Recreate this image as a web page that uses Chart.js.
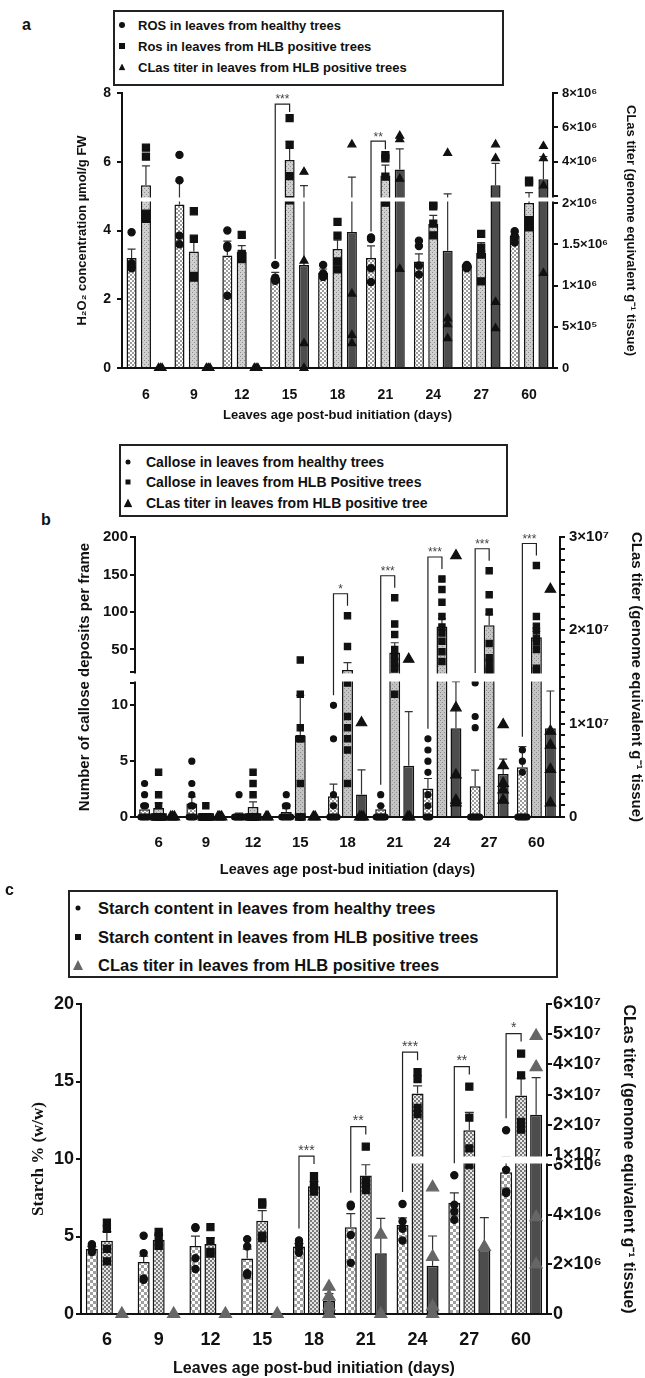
<!DOCTYPE html>
<html>
<head>
<meta charset="utf-8">
<title>ROS, callose and starch in young leaves vs CLas titer</title>
<script src="https://cdn.jsdelivr.net/npm/chart.js@4.4.1/dist/chart.umd.min.js"></script>
<style>
  html, body { margin: 0; padding: 0; background: #fff; }
  body { position: relative; width: 645px; height: 1378px; overflow: hidden;
         font-family: "Liberation Sans", Arial, Helvetica, sans-serif; color: #111; }
  canvas { position: absolute; left: 0; }
  .tag { position: absolute; font-weight: bold; font-size: 16px; line-height: 1; }
  .legend { position: absolute; box-sizing: border-box; border: 2px solid #222; background: #fff;
            z-index: 2; font-weight: bold; }
  .legend .row { position: absolute; white-space: nowrap; line-height: 1; transform: translateY(-50%); }
  .legend .mk { position: absolute; transform: translate(-50%, -50%); background: #111; }
  .legend .circle { border-radius: 50%; }
  .legend .tri { clip-path: polygon(50% 0, 100% 100%, 0 100%); }
</style>
</head>
<body>

<div class="tag" style="left:22px; top:17px;">a</div>
<div class="legend" id="legendA" style="left:113px; top:10px; width:391px; height:76px; font-size:13px;"></div>
<canvas id="chartA" width="645" height="440" style="top:0px;"></canvas>

<div class="tag" style="left:41px; top:512px;">b</div>
<div class="legend" id="legendB" style="left:119px; top:444px; width:389px; height:73px; font-size:14px;"></div>
<canvas id="chartB" width="645" height="450" style="top:440px;"></canvas>

<div class="tag" style="left:5px; top:882px;">c</div>
<div class="legend" id="legendC" style="left:68px; top:890px; width:490px; height:88px; font-size:16.5px;"></div>
<canvas id="chartC" width="645" height="488" style="top:890px;"></canvas>

<script>
// ---- data ----
const days = ['6', '9', '12', '15', '18', '21', '24', '27', '60'];

// (a) H2O2 concentration (µmol/g FW) and CLas titer
const rosHealthy = [3.2, 4.76, 3.27, 2.63, 2.78, 3.2, 3.1, 2.96, 3.85];
const rosHealthySem = [0.26, 0.67, 0.42, 0.15, 0.1, 0.35, 0.22, 0.05, 0.1];
const rosHealthyPts = [[3.95, 3.05, 2.95, 2.9], [6.2, 5.46, 3.85, 3.6], [4.0, 3.56, 3.5, 2.1],
  [3.0, 2.63, 2.58, 2.54], [3.0, 2.75, 2.7, 2.65], [3.8, 3.75, 2.9, 2.5], [3.7, 3.55, 2.98, 2.72],
  [3.0, 2.95, 2.9, 2.95], [3.98, 3.85, 3.8, 3.65]];
const rosHlb = [5.32, 3.39, 3.38, 6.05, 3.46, 5.6, 4.19, 3.35, 4.8];
const rosHlbSem = [0.56, 0.41, 0.18, 0.54, 0.26, 0.3, 0.25, 0.3, 0.3];
const rosHlbPts = [[6.41, 6.15, 4.49, 4.34], [4.56, 3.76, 2.63, 2.68], [3.87, 3.32, 3.22, 3.17],
  [7.27, 6.49, 5.58, 4.88], [4.25, 3.85, 3.1, 2.87], [6.19, 6.1, 5.57, 4.81], [4.75, 4.7, 4.2, 3.86],
  [3.9, 3.5, 3.3, 2.52], [5.4, 5.45, 4.3, 4.09]];
const clasA = [0, 0, 0, 1.25e6, 1.65e6, 3.54e6, 1.42e6, 2.63e6, 2.97e6];
const clasASem = [0, 0, 0, 1.35e6, 1.45e6, 1.2e6, 0.7e6, 1.27e6, 1.33e6];
const clasAPts = [[0, 0, 0], [0, 0, 0], [0, 0, 0], [3.4e6, 1.3e6, 0.3e6, 0], [5.0e6, 0.9e6, 0.4e6, 0.3e6],
  [5.5e6, 5.3e6, 3.0e6, 1.2e6], [4.5e6, 0.6e6, 0.53e6, 0.36e6], [5.0e6, 4.2e6, 0.8e6, 0.48e6],
  [4.9e6, 4.2e6, 2.6e6, 1.15e6]];
const sigA = [3, 5];
const sigAText = ['***', '**'];
const rosTicks = [0, 2, 4, 6, 8];
const clasATicks = [0, 5e5, 1e6, 1.5e6, 2e6, 4e6, 6e6, 8e6];

// (b) callose deposits per frame and CLas titer
const calHealthy = [0.7, 1.2, 0.15, 0.45, 1.85, 0.7, 2.55, 2.75, 4.45];
const calHealthySem = [0.35, 0.6, 0.2, 0.3, 1.1, 0.3, 0.9, 1.45, 1.85];
const calHealthyPts = [[3, 2, 1, 1, 0, 0, 0, 0, 0], [5, 3, 2, 1, 1, 0, 0, 0, 0], [2, 0, 0, 0, 0, 0, 0, 0, 0],
  [2, 1, 1, 0, 0, 0, 0, 0, 0], [10, 7, 2, 1, 0, 0, 0, 0, 0], [2, 1, 0, 0, 0, 0, 0, 0, 0],
  [7, 6, 5, 4, 2, 1, 0, 0, 0], [12, 9, 8, 0, 0, 0, 0, 0, 0], [6, 5, 4, 0, 0, 0, 0, 0, 0]];
const calHlb = [0.8, 0.1, 0.9, 7.3, 22.7, 46, 80.6, 82.5, 66.5];
const calHlbSem = [0.45, 0.1, 0.45, 3.6, 9.8, 13, 10.5, 14.5, 7.5];
const calHlbPts = [[4, 2, 1, 0, 0, 0, 0, 0, 0], [1, 0, 0, 0, 0, 0, 0, 0, 0], [4, 3, 2, 0, 0, 0, 0, 0, 0],
  [36, 11, 8, 7, 7, 3, 0, 0, 0], [95, 54, 12, 9, 8, 7, 6, 3], [119, 84, 70, 50, 40, 33, 27, 24, 11],
  [144, 130, 113, 94, 80, 72, 61, 47, 34], [155, 123, 100, 58, 39, 33, 24, 22],
  [162, 94, 81, 75, 65, 60, 50, 25, 22]];
const clasB = [0, 0, 0, 0, 2.4e6, 5.5e6, 9.5e6, 4.6e6, 9.5e6];
const clasBSem = [0, 0, 0, 0, 2.65e6, 5.8e6, 5.0e6, 1.6e6, 4.0e6];
const clasBPts = [[0, 0, 0], [0, 0, 0], [0, 0], [0, 0], [10.1e6, 0, 0, 0], [16.9e6, 0, 0],
  [28e6, 11.7e6, 4.5e6, 1.8e6, 1.5e6], [9.9e6, 5.5e6, 3.6e6, 2.9e6, 1.8e6],
  [24.4e6, 9.2e6, 7.7e6, 5.1e6, 1.5e6]];
const sigB = [4, 5, 6, 7, 8];
const sigBText = ['*', '***', '***', '***', '***'];
const calTicks = [0, 5, 10, 50, 100, 150, 200];
const clasBTicks = [0, 1e7, 2e7, 3e7];

// (c) starch % (w/w) and CLas titer
const stHealthy = [4.2, 3.35, 4.38, 3.58, 4.36, 5.6, 5.75, 7.17, 9.15];
const stHealthySem = [0.15, 0.38, 0.65, 0.6, 0.2, 0.87, 0.45, 0.65, 0.95];
const stHealthyPts = [[4.5, 4.4, 4.1, 4.0], [5.05, 3.93, 2.3, 2.2], [5.6, 5.55, 3.6, 2.9],
  [4.83, 4.36, 2.63, 2.5], [4.75, 4.5, 4.25, 3.95], [7.05, 6.95, 5.1, 3.3], [7.1, 5.97, 5.5, 4.74],
  [8.95, 7.05, 6.6, 6.08], [11.85, 9.3, 7.9, 7.8]];
const stHlb = [4.72, 4.79, 4.51, 6.02, 8.24, 8.93, 14.22, 11.86, 14.1];
const stHlbSem = [0.6, 0.3, 0.4, 0.65, 0.3, 0.7, 0.5, 1.15, 1.1];
const stHlbPts = [[5.9, 5.5, 4.2, 3.4], [5.3, 5.0, 4.5, 4.4], [5.6, 4.7, 4.0, 3.9], [7.2, 7.05, 5.05, 4.9],
  [8.9, 8.4, 8.1, 7.9], [10.8, 8.6, 8.4, 8.0], [15.6, 15.15, 13.3, 12.9], [14.67, 12.67, 10.68, 9.6],
  [16.8, 15.4, 12.4, 11.9]];
const clasC = [0, 0, 0, 0, 0.52e6, 2.45e6, 1.94e6, 2.58e6, 2.33e7];
const clasCSem = [0, 0, 0, 0, 0.3e6, 1.4e6, 1.2e6, 1.3e6, 1.23e7];
const clasCPts = [[0], [0], [0], [0], [1.1e6, 0.7e6, 0.3e6, 0], [3.2e6, 0], [5.1e6, 2.3e6, 0.3e6, 0],
  [2.7e6], [4.94e7, 3.91e7, 3.9e6, 2.0e6]];
const sigC = [4, 5, 6, 7, 8];
const sigCText = ['***', '**', '***', '**', '*'];
const starchTicks = [0, 5, 10, 15, 20];
const clasCTicks = [0, 2e6, 4e6, 6e6, 1e7, 2e7, 3e7, 4e7, 5e7, 6e7];

// ---- look ----
const FONT = '"Liberation Sans", Arial, Helvetica, sans-serif';
const SERIF = '"Liberation Serif", "Times New Roman", serif';
const INK = '#111';
const CLAS_FILL = '#4d4d4d';

Chart.defaults.font.family = FONT;
Chart.defaults.color = INK;
Chart.defaults.animation = false;
Chart.defaults.events = [];
Chart.defaults.plugins.legend.display = false;
Chart.defaults.plugins.tooltip.enabled = false;

const SUP = { '0': '⁰', '1': '¹', '2': '²', '3': '³', '4': '⁴', '5': '⁵', '6': '⁶', '7': '⁷', '8': '⁸', '9': '⁹' };
function sci(v) {
  if (v === 0) return '0';
  const e = Math.floor(Math.log10(v) + 1e-9);
  const m = +(v / Math.pow(10, e)).toFixed(2);
  return m + '×10' + String(e).split('').map(c => SUP[c]).join('');
}

function checker(light, dark, s) {
  const c = document.createElement('canvas');
  c.width = c.height = 2 * s;
  const g = c.getContext('2d');
  g.fillStyle = light; g.fillRect(0, 0, 2 * s, 2 * s);
  g.fillStyle = dark; g.fillRect(0, 0, s, s); g.fillRect(s, s, s, s);
  return g.createPattern(c, 'repeat');
}
function dotted(bg, dot) {
  const c = document.createElement('canvas');
  c.width = c.height = 4;
  const g = c.getContext('2d');
  g.fillStyle = bg; g.fillRect(0, 0, 4, 4);
  g.fillStyle = dot; g.fillRect(0, 0, 1, 1); g.fillRect(2, 2, 1, 1);
  return g.createPattern(c, 'repeat');
}

// y scale with an axis break: piecewise linear segments separated by a gap
class BrokenScale extends Chart.LinearScale {
  determineDataLimits() {
    const segs = this.options.segments;
    this.min = segs[0].from;
    this.max = segs[segs.length - 1].to;
  }
  buildTicks() {
    this.start = this.min;
    this.end = this.max;
    return this.options.tickValues.map(v => ({ value: v }));
  }
  segmentDecimals() {
    const segs = this.options.segments;
    const len = this._length || (this.bottom - this.top) || 1;
    const gap = this.options.gap / len;
    const total = segs.reduce((s, g) => s + g.weight, 0);
    const avail = 1 - gap * (segs.length - 1);
    let start = 0;
    return segs.map(g => {
      const span = avail * g.weight / total;
      const r = { from: g.from, to: g.to, start: start, end: start + span };
      start += span + gap;
      return r;
    });
  }
  getPixelForValue(value) {
    const parts = this.segmentDecimals();
    let dec = 0;
    for (let i = 0; i < parts.length; i++) {
      const p = parts[i];
      if (value <= p.to || i === parts.length - 1) {
        dec = value < p.from ? p.start : p.start + (p.end - p.start) * (value - p.from) / (p.to - p.from);
        break;
      }
    }
    return this.getPixelForDecimal(dec);
  }
  getValueForPixel() { return 0; }
}
BrokenScale.id = 'broken';
BrokenScale.defaults = {};
Chart.register(BrokenScale);

function barSet(label, data, sem, pts, yAxisID, fill, cp, bp, dot) {
  return { type: 'bar', label, data, sem, pts, dot, yAxisID, backgroundColor: fill,
    borderColor: INK, borderWidth: 1.5, categoryPercentage: cp, barPercentage: bp };
}

function xAxis(H, fontSize, pad, titleSize, titlePad) {
  return {
    type: 'category', offset: true,
    grid: { display: false },
    border: { color: INK, width: 2 },
    ticks: { font: { size: fontSize, weight: 'bold' }, color: INK, padding: pad, autoSkip: false, maxRotation: 0 },
    title: { display: true, text: 'Leaves age post-bud initiation (days)', color: INK,
      font: { size: titleSize, weight: 'bold' }, padding: { top: 0, bottom: titlePad } },
    afterFit: s => { s.height = H; }
  };
}
function yAxis(position, width, opts) {
  return Object.assign({
    position,
    grid: { display: true, drawOnChartArea: false, drawTicks: true, tickLength: 5, color: INK, lineWidth: 2 },
    border: { color: INK, width: 2 },
    afterFit: s => { s.width = width; }
  }, opts);
}
function fixedTicks(list) {
  return s => { s.ticks = list.map(v => ({ value: v })); };
}

// individual values, error bars, axis break and significance brackets
function extras(o) {
  return {
    id: 'extras',
    afterDatasetsDraw(chart) {
      const ctx = chart.ctx, area = chart.chartArea;
      ctx.save();
      chart.data.datasets.forEach((ds, di) => {
        const sc = chart.scales[ds.yAxisID];
        chart.getDatasetMeta(di).data.forEach((bar, i) => {
          // error bar: mean up to mean + SEM
          if (ds.sem[i]) {
            const yTop = sc.getPixelForValue(ds.data[i] + ds.sem[i]);
            ctx.strokeStyle = '#333';
            ctx.lineWidth = 1.2;
            ctx.beginPath();
            ctx.moveTo(bar.x, bar.y); ctx.lineTo(bar.x, yTop);
            ctx.moveTo(bar.x - o.cap, yTop); ctx.lineTo(bar.x + o.cap, yTop);
            ctx.stroke();
          }
          // points; equal values spread a little sideways
          const vals = ds.pts[i];
          const count = {}, used = {};
          vals.forEach(v => { count[v] = (count[v] || 0) + 1; });
          ctx.fillStyle = ds.dot.color;
          ctx.strokeStyle = ds.dot.color;
          vals.forEach(v => {
            const n = count[v];
            const k = used[v] = (used[v] || 0) + 1;
            const dx = n > 1 ? ((k - 1) / (n - 1) - 0.5) * Math.min(9, 1.8 * (n - 1)) : 0;
            Chart.helpers.drawPoint(ctx, { pointStyle: ds.dot.style, radius: ds.dot.r, rotation: 0, borderWidth: 0.5 },
              bar.x + dx, sc.getPixelForValue(v));
          });
        });
      });
      // axis break
      const bs = chart.scales[o.broken];
      const parts = bs.segmentDecimals();
      for (let k = 0; k < parts.length - 1; k++) {
        const yLow = bs.getPixelForDecimal(parts[k].end);
        const yHigh = bs.getPixelForDecimal(parts[k + 1].start);
        const onLeft = bs.position === 'left';
        const x0 = onLeft ? area.left - 9 : area.left + 2;
        const x1 = onLeft ? area.right - 2 : area.right + 9;
        ctx.fillStyle = '#fff';
        ctx.fillRect(x0, yHigh + 1.5, x1 - x0, yLow - yHigh - 3);
      }
      // brackets between healthy (0) and HLB (1)
      const top = (di, i) => {
        const ds = chart.data.datasets[di];
        const v = Math.max(ds.data[i] + (ds.sem[i] || 0), ...ds.pts[i]);
        return chart.scales[ds.yAxisID].getPixelForValue(v);
      };
      o.sig.forEach((i, n) => {
        const xl = chart.getDatasetMeta(0).data[i].x;
        const xr = chart.getDatasetMeta(1).data[i].x;
        const pl = top(0, i) - o.legGap, pr = top(1, i) - o.legGap;
        const yb = Math.min(pl, pr) - o.rise;
        ctx.strokeStyle = '#222';
        ctx.lineWidth = 1.2;
        ctx.beginPath();
        ctx.moveTo(xl, pl); ctx.lineTo(xl, yb); ctx.lineTo(xr, yb); ctx.lineTo(xr, pr);
        ctx.stroke();
        ctx.fillStyle = '#444';
        ctx.font = o.sigFont + ' ' + FONT;
        ctx.textAlign = 'center';
        ctx.textBaseline = 'bottom';
        ctx.fillText(o.sigText[n], (xl + xr) / 2, yb + 2);
      });
      ctx.restore();
    }
  };
}

function buildLegend(id, items, markX, textX) {
  const box = document.getElementById(id);
  items.forEach(it => {
    const mk = document.createElement('span');
    mk.className = 'mk ' + it.shape;
    mk.style.left = markX + 'px';
    mk.style.top = it.y + 'px';
    mk.style.width = it.size + 'px';
    mk.style.height = it.size + 'px';
    if (it.color) mk.style.background = it.color;
    box.appendChild(mk);
    const row = document.createElement('div');
    row.className = 'row';
    row.style.left = textX + 'px';
    row.style.top = it.y + 'px';
    row.textContent = it.text;
    box.appendChild(row);
  });
}

// ---- legends ----
buildLegend('legendA', [
  { shape: 'circle', size: 6, y: 13, text: 'ROS in leaves from healthy trees' },
  { shape: 'square', size: 6, y: 34, text: 'Ros in leaves from HLB positive trees' },
  { shape: 'tri', size: 7, y: 55, text: 'CLas titer in leaves from HLB positive trees' }
], 7, 23);
buildLegend('legendB', [
  { shape: 'circle', size: 5, y: 16, text: 'Callose in leaves from healthy trees' },
  { shape: 'square', size: 5, y: 36, text: 'Callose in leaves from HLB Positive trees' },
  { shape: 'tri', size: 9, y: 57, text: 'CLas titer in leaves from HLB positive tree' }
], 7, 25);
buildLegend('legendC', [
  { shape: 'circle', size: 5, y: 16, text: 'Starch content in leaves from healthy trees' },
  { shape: 'square', size: 6, y: 45, text: 'Starch content in leaves from HLB positive trees' },
  { shape: 'tri', size: 10, y: 73, text: 'CLas titer in leaves from HLB positive trees', color: '#666' }
], 8, 28);

// ---- panel a ----
const cpA = 0.9, bpA = 0.7;
new Chart(document.getElementById('chartA'), {
  type: 'bar',
  data: {
    labels: days,
    datasets: [
      barSet('ROS healthy', rosHealthy, rosHealthySem, rosHealthyPts, 'yL', checker('#fff', '#9c9c9c', 2), cpA, bpA,
        { style: 'circle', r: 3.6, color: INK }),
      barSet('ROS HLB', rosHlb, rosHlbSem, rosHlbPts, 'yL', dotted('#cfcfcf', '#8f8f8f'), cpA, bpA,
        { style: 'rect', r: 5, color: INK }),
      barSet('CLas', clasA, clasASem, clasAPts, 'yR', CLAS_FILL, cpA, bpA,
        { style: 'triangle', r: 4.6, color: INK })
    ]
  },
  options: {
    responsive: false,
    layout: { padding: { top: 93, left: 0, right: 0, bottom: 0 } },
    scales: {
      x: xAxis(72, 14, 11, 13, 17),
      yL: yAxis('left', 122, {
        type: 'linear', min: 0, max: 8, afterBuildTicks: fixedTicks(rosTicks),
        ticks: { font: { size: 14, weight: 'bold' }, color: INK, padding: 6, autoSkip: false },
        title: { display: true, text: 'H₂O₂ concentration µmol/g FW', color: INK,
          font: { size: 13, weight: 'bold' }, padding: { top: 75, bottom: 0 } }
      }),
      yR: yAxis('right', 92, {
        type: 'broken', gap: 7,
        segments: [{ from: 0, to: 2e6, weight: 165 }, { from: 2e6, to: 8e6, weight: 103 }],
        tickValues: clasATicks.concat([2e6 + 1]),
        ticks: { font: { size: 13, weight: 'bold' }, color: INK, padding: 4, autoSkip: false,
          callback: v => (clasATicks.includes(v) ? sci(v) : '') },
        title: { display: true, text: 'CLas titer (genome equivalent g⁻¹ tissue)', color: INK,
          font: { size: 13, weight: 'bold' }, padding: { top: 7, bottom: 0 } }
      })
    }
  },
  plugins: [extras({ broken: 'yR', cap: 4, sig: sigA, sigText: sigAText, legGap: 6, rise: 8, sigFont: '12px' })]
});

// ---- panel b ----
const cpB = 0.89, bpB = 0.78;
new Chart(document.getElementById('chartB'), {
  type: 'bar',
  data: {
    labels: days,
    datasets: [
      barSet('Callose healthy', calHealthy, calHealthySem, calHealthyPts, 'yL', checker('#fff', '#9c9c9c', 2), cpB, bpB,
        { style: 'circle', r: 3, color: INK }),
      barSet('Callose HLB', calHlb, calHlbSem, calHlbPts, 'yL', dotted('#c4c4c4', '#8c8c8c'), cpB, bpB,
        { style: 'rect', r: 4.4, color: INK }),
      barSet('CLas', clasB, clasBSem, clasBPts, 'yR', CLAS_FILL, cpB, bpB,
        { style: 'triangle', r: 6, color: INK })
    ]
  },
  options: {
    responsive: false,
    layout: { padding: { top: 97, left: 0, right: 0, bottom: 0 } },
    scales: {
      x: xAxis(73, 15, 9, 14.5, 11),
      yL: yAxis('left', 135, {
        type: 'broken', gap: 11,
        segments: [{ from: 0, to: 12, weight: 134 }, { from: 20, to: 200, weight: 135 }],
        tickValues: calTicks.concat([12, 20]),
        ticks: { font: { size: 15, weight: 'bold' }, color: INK, padding: 2, autoSkip: false,
          callback: v => (calTicks.includes(v) ? String(v) : '') },
        title: { display: true, text: 'Number of callose deposits per frame', color: INK,
          font: { size: 15, weight: 'bold' }, padding: { top: 76, bottom: 0 } }
      }),
      yR: yAxis('right', 85, {
        type: 'linear', min: 0, max: 3e7,
        afterBuildTicks: fixedTicks(Array.from({ length: 25 }, (_, k) => k * 1.25e6)),
        ticks: { font: { size: 15, weight: 'bold' }, color: INK, padding: 4, autoSkip: false,
          callback: v => (clasBTicks.includes(v) ? sci(v) : '') },
        title: { display: true, text: 'CLas titer (genome equivalent g⁻¹ tissue)', color: INK,
          font: { size: 15, weight: 'bold' }, padding: { top: 0, bottom: 0 } }
      })
    }
  },
  plugins: [extras({ broken: 'yL', cap: 4, sig: sigB, sigText: sigBText, legGap: 10, rise: 12, sigFont: '12px' })]
});

// ---- panel c ----
const cpC = 0.87, bpC = 0.8;
new Chart(document.getElementById('chartC'), {
  type: 'bar',
  data: {
    labels: days,
    datasets: [
      barSet('Starch healthy', stHealthy, stHealthySem, stHealthyPts, 'yL', checker('#fff', '#a0a0a0', 3), cpC, bpC,
        { style: 'circle', r: 3.6, color: INK }),
      barSet('Starch HLB', stHlb, stHlbSem, stHlbPts, 'yL', checker('#e6e6e6', '#7a7a7a', 2), cpC, bpC,
        { style: 'rect', r: 5, color: INK }),
      barSet('CLas', clasC, clasCSem, clasCPts, 'yR', CLAS_FILL, cpC, bpC,
        { style: 'triangle', r: 7, color: '#666' })
    ]
  },
  options: {
    responsive: false,
    layout: { padding: { top: 114, left: 0, right: 0, bottom: 0 } },
    scales: {
      x: xAxis(64, 18, 7, 16, 0),
      yL: yAxis('left', 81, {
        type: 'linear', min: 0, max: 20, afterBuildTicks: fixedTicks(starchTicks),
        ticks: { font: { size: 18, weight: 'bold' }, color: INK, padding: 2, autoSkip: false },
        title: { display: true, text: 'Starch % (w/w)', color: INK,
          font: { family: SERIF, size: 17, weight: 'bold' }, padding: { top: 28, bottom: 0 } }
      }),
      yR: yAxis('right', 98, {
        type: 'broken', gap: 10,
        segments: [{ from: 0, to: 6e6, weight: 149 }, { from: 1e7, to: 6e7, weight: 151 }],
        tickValues: clasCTicks,
        ticks: { font: { size: 18, weight: 'bold' }, color: INK, padding: 1, autoSkip: false,
          callback: v => sci(v) },
        title: { display: true, text: 'CLas titer (genome equivalent g⁻¹ tissue)', color: INK,
          font: { size: 16, weight: 'bold' }, padding: { top: 7, bottom: 0 } }
      })
    }
  },
  plugins: [extras({ broken: 'yR', cap: 4.5, sig: sigC, sigText: sigCText, legGap: 12, rise: 8, sigFont: '14px' })]
});
</script>
</body>
</html>
